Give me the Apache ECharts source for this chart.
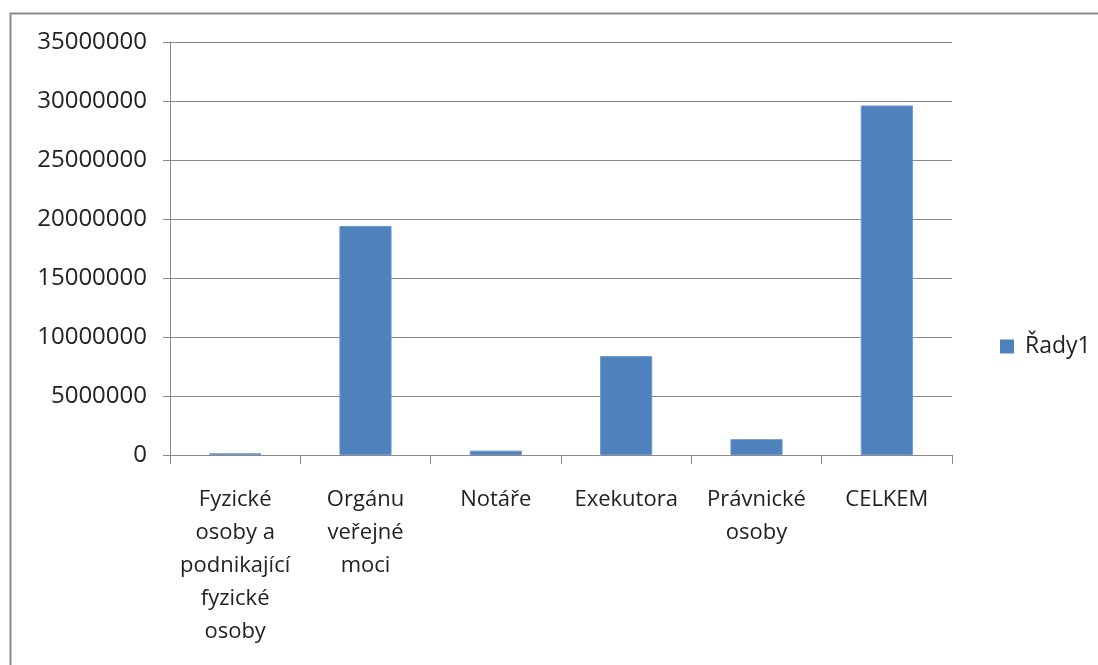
<!DOCTYPE html>
<html><head><meta charset="utf-8">
<script src="https://cdn.jsdelivr.net/npm/echarts@6/dist/echarts.min.js"></script>
<style>html,body{margin:0;padding:0;background:#fff}#c{width:1098px;height:665px}</style>
</head><body><div id="c"></div>
<script>
const categories = ["Fyzické\nosoby a\npodnikající\nfyzické\nosoby", "Orgánu\nveřejné\nmoci", "Notáře", "Exekutora", "Právnické\nosoby", "CELKEM"];
const seriesName = "Řady1";
const values = [140000, 19410000, 370000, 8380000, 1340000, 29620000];
const yTicks = { min: 0, max: 35000000, interval: 5000000 };

const FONT = "Open Sans";
const chart = echarts.init(document.getElementById('c'), null, { renderer: 'canvas' });
chart.setOption({
  animation: false,
  backgroundColor: '#ffffff',
  textStyle: { fontFamily: FONT },
  graphic: [{
    type: 'rect', left: 8, top: 11, silent: true,
    shape: { x: 0, y: 0, width: 1200, height: 800 },
    style: { fill: 'none', stroke: '#8c8c8c', lineWidth: 2 }
  }],
  grid: { left: 170, right: 146, top: 42, bottom: 210 },
  legend: {
    data: [seriesName], orient: 'vertical', left: 995, top: 330,
    itemWidth: 14, itemHeight: 14, itemGap: 10, icon: 'rect',
    itemStyle: { borderWidth: 0 },
    textStyle: { fontFamily: FONT, fontSize: 23, color: '#222', padding: [0, 0, 0, 6] }
  },
  xAxis: {
    type: 'category', data: categories,
    axisLine: { lineStyle: { color: '#8a8a8a', width: 1 } },
    axisTick: { show: true, length: 9, lineStyle: { color: '#8a8a8a' } },
    axisLabel: { interval: 0, margin: 28, fontFamily: FONT, fontSize: 22, color: '#222', lineHeight: 33, align: 'center' }
  },
  yAxis: {
    type: 'value', min: yTicks.min, max: yTicks.max, interval: yTicks.interval,
    axisLine: { show: true, lineStyle: { color: '#8a8a8a', width: 1 } },
    axisTick: { show: true, length: 7, lineStyle: { color: '#8a8a8a' } },
    splitLine: { show: true, lineStyle: { color: '#8a8a8a', width: 1 } },
    axisLabel: { margin: 23, fontFamily: FONT, fontSize: 24, color: '#222', formatter: v => String(v) }
  },
  series: [{
    name: seriesName, type: 'bar', data: values, barWidth: '40%',
    itemStyle: { color: '#4F81BD', borderColor: '#6a96cc', borderWidth: 1 }
  }]
});
</script></body></html>
